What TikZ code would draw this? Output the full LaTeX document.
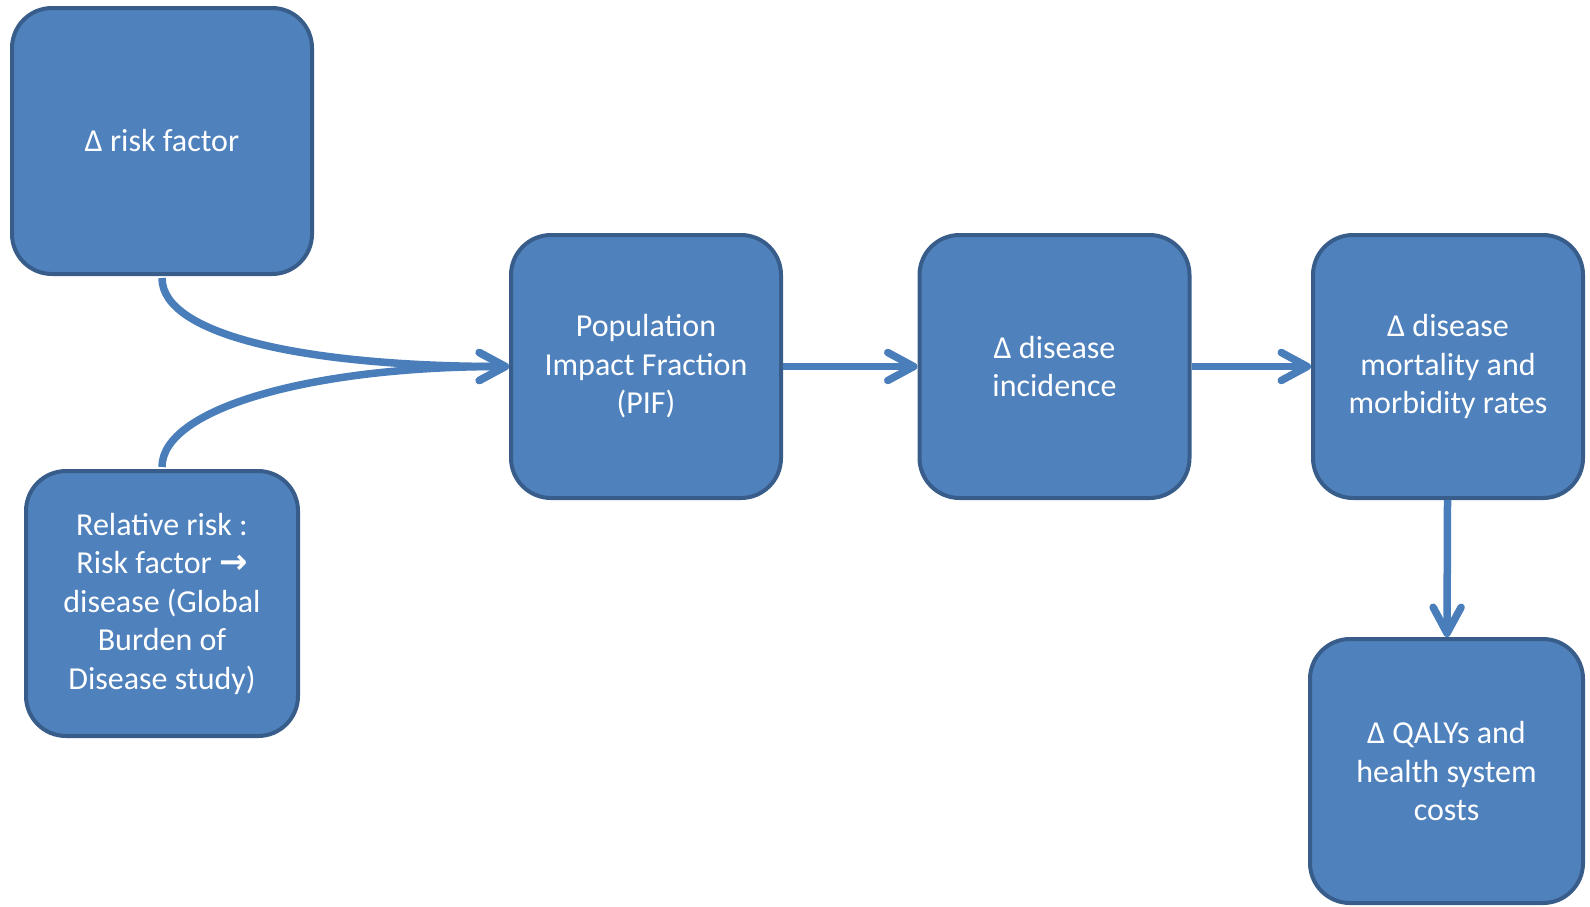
\documentclass[tikz,border=0pt]{standalone}
\usepackage{fontspec}
\setmainfont{Carlito}
\newfontfamily\symfont{DejaVu Sans}
\usepackage{xcolor}
\usepackage{tikz}
\usetikzlibrary{arrows.meta}
\definecolor{boxfill}{HTML}{4F81BD}
\definecolor{boxline}{HTML}{385D8A}
\definecolor{arcblue}{HTML}{4A7EBB}

\begin{document}
\begin{tikzpicture}
          [x=0.5pt,y=-0.5pt,
          font=\fontsize{16}{19.25}\selectfont,
          box/.style={shape=rectangle,rounded corners=20pt,draw=boxline,fill=boxfill,text=white,line width=2pt,minimum width=135pt,minimum height=131.5pt,align=center},
          arc/.style={-{Straight Barb[length=13pt,width=14pt,line cap=round,line join=round]},draw=arcblue,line width=3.75pt}]

            \useasboundingbox (0,0) rectangle (1590,906);

            \node (risk) [box,minimum width=150pt,minimum height=133pt] at (162,141) {Δ risk factor};
            \node (rr) [box,minimum width=136pt,minimum height=132.5pt] at (162,603.5) {Relative risk :\\Risk factor {\symfont\bfseries\fontsize{17}{19.25}\selectfont →}\\disease (Global\\Burden of\\Disease study)};
            \node (pif) [box] at (646,366.5) {Population\\Impact Fraction\\(PIF)};
            \node (inc) [box] at (1054.5,366.5) {Δ disease\\incidence};
            \node (mort) [box] at (1448,366.5) {Δ disease\\mortality and\\morbidity rates};
            \node (qaly) [box,minimum width=136.5pt,minimum height=132pt] at (1446.5,771) {Δ QALYs and\\health system\\costs};

            \draw [arc,shorten <=1pt] (risk.south) .. controls +(0,60) and +(-200,0) .. (pif.west);
            \draw [arc,shorten <=1pt] (rr.north) .. controls +(0,-60) and +(-200,0) .. (pif.west);
            \draw [arc] (pif) -- (inc);
            \draw [arc] (inc) -- (mort);
            \draw [arc] (mort) -- (qaly);

        \end{tikzpicture}
\end{document}
